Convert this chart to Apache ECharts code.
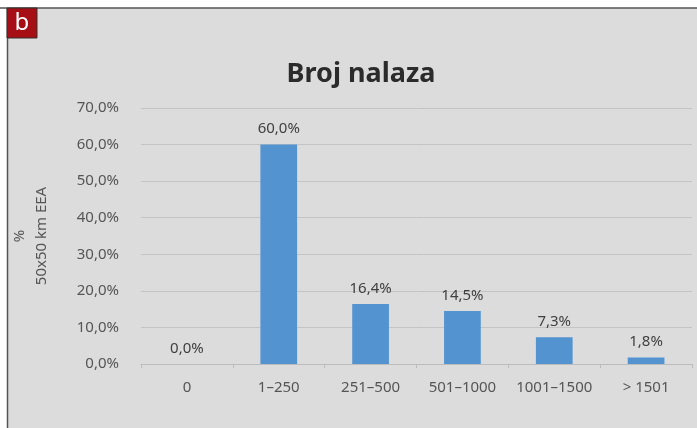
<!DOCTYPE html>
<html>
<head>
<meta charset="utf-8">
<script src="https://cdn.jsdelivr.net/npm/echarts@6/dist/echarts.min.js"></script>
<style>
  html, body { margin: 0; padding: 0; background: #fff; }
  #main { width: 697px; height: 428px; }
</style>
</head>
<body>
<div id="main"></div>
<script>
// podaci
var categories = ['0', '1–250', '251–500', '501–1000', '1001–1500', '> 1501'];
var values = [0.0, 60.0, 16.4, 14.5, 7.3, 1.8];
var yTicks = [0, 10, 20, 30, 40, 50, 60, 70];

var myChart = echarts.init(document.getElementById('main'));

var fmt = function (v) {
    return v.toFixed(1).replace('.', ',') + '%';
};

myChart.setOption({
    backgroundColor: '#fff',
    textStyle: { fontFamily: 'Noto Sans' },
    graphic: [
        // siva pozadina panela
        { type: 'rect', z: -10, shape: { x: 7, y: 8, width: 690, height: 420 }, style: { fill: '#dcdcdc' } },
        { type: 'line', z: -5, shape: { x1: 0, y1: 8, x2: 697, y2: 8 }, style: { stroke: '#555', lineWidth: 1.5 } },
        { type: 'line', z: -5, shape: { x1: 7.5, y1: 8, x2: 7.5, y2: 428 }, style: { stroke: '#555', lineWidth: 1.5 } },
        // oznaka "b"
        { type: 'rect', shape: { x: 7, y: 8, width: 30, height: 30 }, style: { fill: '#a50f15', stroke: '#333', lineWidth: 1 } },
        { type: 'text', x: 22, y: 23, style: { text: 'b', fill: '#fff', font: '24px Noto Sans', align: 'center', verticalAlign: 'middle' } }
    ],
    title: {
        text: 'Broj nalaza',
        left: 356,
        top: 56,
        textAlign: 'center',
        textStyle: { fontSize: 27, fontWeight: 'bold', color: '#2b2b2b', fontFamily: 'Noto Sans' }
    },
    grid: { left: 141, right: 5, top: 108, bottom: 64 },
    xAxis: {
        type: 'category',
        data: categories,
        axisLine: { lineStyle: { color: '#bcbcbc' } },
        axisTick: { show: true, length: 4, lineStyle: { color: '#bcbcbc' } },
        axisLabel: { color: '#555', fontSize: 15, margin: 16, interval: 0, hideOverlap: false }
    },
    yAxis: {
        type: 'value',
        min: 0,
        max: 70,
        interval: 10,
        name: '%\n50x50 km EEA',
        nameLocation: 'middle',
        nameGap: 88,
        nameRotate: 90,
        nameTextStyle: { color: '#555', fontSize: 15, lineHeight: 22 },
        axisLine: { show: false },
        axisTick: { show: false },
        axisLabel: {
            color: '#555',
            fontSize: 15,
            margin: 22,
            formatter: function (v) { return yTicks.indexOf(v) >= 0 ? fmt(v) : ''; }
        },
        splitLine: { lineStyle: { color: '#c4c4c4' } }
    },
    series: [{
        type: 'bar',
        data: values,
        barWidth: '40%',
        itemStyle: { color: '#5393d0' },
        label: {
            show: true,
            position: 'top',
            distance: 8,
            color: '#404040',
            fontSize: 15,
            formatter: function (p) { return fmt(p.value); }
        }
    }]
});
window.onresize = myChart.resize;
</script>
</body>
</html>
